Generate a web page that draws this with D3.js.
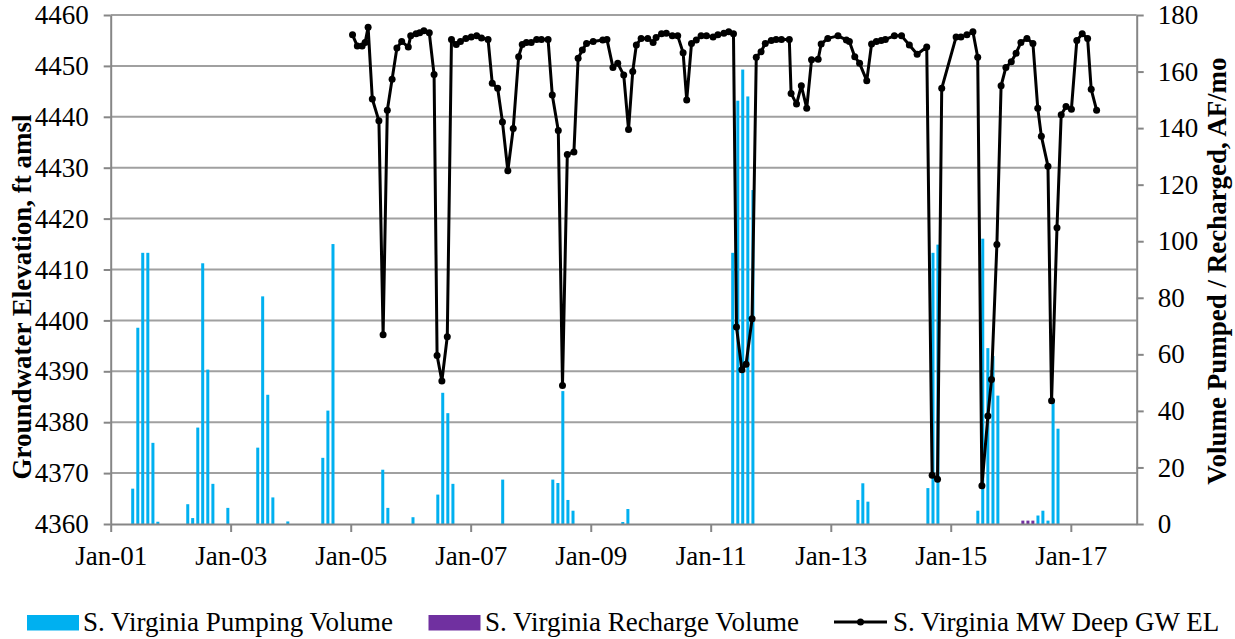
<!DOCTYPE html>
<html><head><meta charset="utf-8">
<script src="https://cdn.jsdelivr.net/npm/d3@7"></script>
<style>body{margin:0;background:#fff}</style>
</head><body><svg id="c" width="1235" height="639"></svg>
<script>
// ---------- data ----------
const leftTicks = [4360,4370,4380,4390,4400,4410,4420,4430,4440,4450,4460];
const rightTicks = [0,20,40,60,80,100,120,140,160,180];
const xTickDates = ["2001-01-01","2003-01-01","2005-01-01","2007-01-01","2009-01-01","2011-01-01","2013-01-01","2015-01-01","2017-01-01"];

const pumpMonths = ["2001-05","2001-06","2001-07","2001-08","2001-09","2001-10",
  "2002-04","2002-05","2002-06","2002-07","2002-08","2002-09","2002-12",
  "2003-06","2003-07","2003-08","2003-09","2003-12",
  "2004-07","2004-08","2004-09",
  "2005-07","2005-08","2006-01",
  "2006-06","2006-07","2006-08","2006-09",
  "2007-07",
  "2008-05","2008-06","2008-07","2008-08","2008-09",
  "2009-07","2009-08",
  "2011-05","2011-06","2011-07","2011-08","2011-09",
  "2013-06","2013-07","2013-08",
  "2014-08","2014-09","2014-10",
  "2015-06","2015-07","2015-08","2015-09","2015-10",
  "2016-06","2016-07","2016-08","2016-09","2016-10"];
const pumpValues = [12.5,69.4,95.9,95.9,28.7,0.8,
  7.0,2.1,34.1,92.2,54.6,14.2,5.7,
  27.0,80.5,45.7,9.4,0.9,
  23.4,40.1,99.0,
  19.2,5.7,2.4,
  10.4,46.4,39.2,14.2,
  15.7,
  15.7,14.5,47.0,8.5,4.7,
  0.7,5.3,
  95.9,149.7,160.7,151.2,118.1,
  8.5,14.4,7.9,
  12.7,95.9,98.8,
  4.7,100.9,62.2,59.4,45.4,
  3.0,4.7,1.2,43.5,33.7];

const rechargeMonths = ["2016-03","2016-04","2016-05"];
const rechargeValues = [1.2,1.2,1.2];

// decimal year of each groundwater reading, and elevation (ft amsl)
const gwYears = [2005.03,2005.11,2005.19,2005.24,2005.29,2005.36,2005.47,2005.54,2005.61,2005.69,2005.77,2005.85,2005.96,
  2006.00,2006.09,2006.15,2006.22,2006.31,2006.39,2006.44,2006.52,2006.61,2006.68,2006.76,2006.83,2006.92,
  2007.01,2007.10,2007.18,2007.29,2007.36,2007.45,2007.53,2007.62,2007.71,2007.80,2007.86,2007.93,
  2008.01,2008.10,2008.18,2008.29,2008.36,2008.46,2008.53,2008.61,2008.72,2008.79,2008.86,2008.93,
  2009.04,2009.20,2009.27,2009.37,2009.45,2009.55,2009.63,2009.70,2009.76,2009.84,2009.95,
  2010.04,2010.09,2010.18,2010.26,2010.36,2010.45,2010.54,2010.60,2010.68,2010.76,2010.84,2010.93,
  2011.04,2011.12,2011.22,2011.30,2011.38,2011.43,2011.52,2011.59,2011.69,2011.76,2011.84,2011.91,
  2012.01,2012.09,2012.18,2012.31,2012.34,2012.43,2012.51,2012.60,2012.68,2012.79,2012.84,2012.95,
  2013.12,2013.26,2013.31,2013.40,2013.48,2013.60,2013.68,2013.76,2013.84,2013.91,
  2014.06,2014.18,2014.31,2014.44,2014.60,2014.69,2014.78,2014.85,
  2015.09,2015.17,2015.27,2015.37,2015.45,2015.52,2015.62,2015.68,2015.77,2015.84,2015.92,
  2016.01,2016.09,2016.17,2016.27,2016.37,2016.45,2016.51,2016.62,2016.68,2016.77,2016.84,2016.92,
  2017.01,2017.10,2017.19,2017.28,2017.34,2017.43];
const gwElev = [4456.1,4453.9,4453.9,4454.6,4457.6,4443.5,4439.2,4397.2,4441.3,4447.4,4453.5,4454.8,4453.7,
  4455.9,4456.3,4456.5,4456.9,4456.5,4448.3,4393.1,4388.1,4396.8,4455.2,4454.2,4454.8,4455.4,
  4455.7,4455.9,4455.5,4455.2,4446.6,4445.6,4439.0,4429.4,4437.7,4451.8,4454.2,4454.6,
  4454.6,4455.2,4455.2,4455.2,4444.3,4437.3,4387.2,4432.6,4433.1,4451.5,4453.1,4454.4,
  4454.8,4455.1,4455.2,4449.7,4450.5,4448.2,4437.5,4448.9,4454.1,4455.4,4455.4,
  4454.6,4455.6,4456.3,4456.4,4455.9,4455.9,4452.6,4443.3,4454.4,4455.1,4455.9,4455.9,
  4455.7,4456.1,4456.4,4456.7,4456.3,4398.7,4390.3,4391.4,4400.3,4451.7,4452.8,4454.4,
  4455.0,4455.2,4455.2,4455.2,4444.6,4442.5,4446.1,4441.7,4451.2,4451.3,4454.3,4455.4,
  4455.9,4455.1,4454.8,4451.8,4450.5,4447.1,4454.3,4454.8,4455.0,4455.2,
  4455.9,4455.9,4454.1,4452.3,4453.7,4369.6,4368.8,4445.6,
  4455.7,4455.7,4456.1,4456.7,4451.7,4367.5,4381.2,4388.4,4414.9,4446.1,4449.7,
  4450.8,4452.5,4454.6,4455.4,4454.4,4441.7,4436.2,4430.3,4384.2,4418.2,4440.4,4442.0,
  4441.5,4455.0,4456.3,4455.4,4445.4,4441.3];

const legendLabels = ["S. Virginia Pumping Volume","S. Virginia Recharge Volume","S. Virginia MW Deep GW EL"];

// ---------- helpers ----------
const monthDate = s => { const [y,m] = s.split("-").map(Number); return new Date(y, m-1, 15); };
const decDate = v => { const y = Math.floor(v); const a = new Date(y,0,1), b = new Date(y+1,0,1); return new Date(+a + (v-y)*(b-a)); };

const FONT = "'Liberation Serif','Times New Roman',serif";
const FS = "27px";
const L = 110.7, R = 1136.7, T = 15, B = 524;
const svg = d3.select("#c");
svg.append("rect").attr("width",1235).attr("height",639).attr("fill","#fff");

const x = d3.scaleTime().domain([new Date(2001,0,1), new Date(2018,1,6)]).range([L,R]);
const yL = d3.scaleLinear().domain([4360,4460]).range([B,T]);
const yR = d3.scaleLinear().domain([0,180]).range([B,T]);

// gridlines
svg.append("g").selectAll("line").data(leftTicks.slice(1)).join("line")
  .attr("x1",L).attr("x2",R).attr("y1",d=>yL(d)).attr("y2",d=>yL(d))
  .attr("stroke","#a0a0a0").attr("stroke-width",2);

// bars
const bw = 3;
svg.append("g").selectAll("rect").data(pumpMonths.map((m,i)=>({d:monthDate(m),v:pumpValues[i]}))).join("rect")
  .attr("x",d=>x(d.d)-bw/2).attr("width",bw).attr("y",d=>yR(d.v)).attr("height",d=>B-yR(d.v)).attr("fill","#00B0F0");
svg.append("g").selectAll("rect").data(rechargeMonths.map((m,i)=>({d:monthDate(m),v:rechargeValues[i]}))).join("rect")
  .attr("x",d=>x(d.d)-bw/2).attr("width",bw).attr("y",d=>yR(d.v)).attr("height",d=>B-yR(d.v)).attr("fill","#7030A0");

// axes
function styleAxis(g){
  g.attr("font-family",null).attr("font-size",null);
  g.select(".domain").attr("stroke","#868686").attr("stroke-width",2);
  g.selectAll(".tick line").attr("stroke","#868686").attr("stroke-width",2);
  g.selectAll(".tick text").attr("fill","#000").style("font-family",FONT).style("font-size",FS);
}
svg.append("g").attr("transform",`translate(0,${B})`)
  .call(d3.axisBottom(x).tickValues(xTickDates.map(s=>new Date(s+"T00:00:00"))).tickFormat(d3.timeFormat("%b-%y")).tickSize(8).tickSizeOuter(0).tickPadding(14))
  .call(styleAxis);
svg.append("g").attr("transform",`translate(${L},0)`)
  .call(d3.axisLeft(yL).tickValues(leftTicks).tickFormat(d3.format("d")).tickSize(7).tickSizeOuter(0).tickPadding(15))
  .call(styleAxis);
svg.append("g").attr("transform",`translate(${R},0)`)
  .call(d3.axisRight(yR).tickValues(rightTicks).tickFormat(d3.format("d")).tickSize(7).tickSizeOuter(0).tickPadding(14))
  .call(styleAxis);

// line
const pts = gwYears.map((v,i)=>({d:decDate(v),e:gwElev[i]}));
svg.append("path").datum(pts).attr("fill","none").attr("stroke","#000").attr("stroke-width",3).attr("stroke-linejoin","round")
  .attr("d",d3.line().x(d=>x(d.d)).y(d=>yL(d.e)));
svg.append("g").selectAll("circle").data(pts).join("circle")
  .attr("cx",d=>x(d.d)).attr("cy",d=>yL(d.e)).attr("r",3.5).attr("fill","#000");

// axis titles
svg.append("text").attr("transform","translate(31,297) rotate(-90)").attr("text-anchor","middle")
  .style("font-family",FONT).style("font-size",FS).style("font-weight","bold").text("Groundwater  Elevation, ft amsl");
svg.append("text").attr("transform","translate(1226,271) rotate(-90)").attr("text-anchor","middle")
  .style("font-family",FONT).style("font-size",FS).style("font-weight","bold").text("Volume Pumped / Recharged, AF/mo");

// legend
const lg = svg.append("g").style("font-family",FONT).style("font-size",FS);
lg.append("rect").attr("x",27).attr("y",615).attr("width",52).attr("height",15.5).attr("fill","#00B0F0");
lg.append("text").attr("x",83).attr("y",631).text(legendLabels[0]);
lg.append("rect").attr("x",428.5).attr("y",615).attr("width",52).attr("height",15.5).attr("fill","#7030A0");
lg.append("text").attr("x",485).attr("y",631).text(legendLabels[1]);
lg.append("line").attr("x1",834).attr("x2",887).attr("y1",622).attr("y2",622).attr("stroke","#000").attr("stroke-width",3);
lg.append("circle").attr("cx",860.5).attr("cy",622).attr("r",3.5).attr("fill","#000");
lg.append("text").attr("x",893).attr("y",631).text(legendLabels[2]);
</script></body></html>
